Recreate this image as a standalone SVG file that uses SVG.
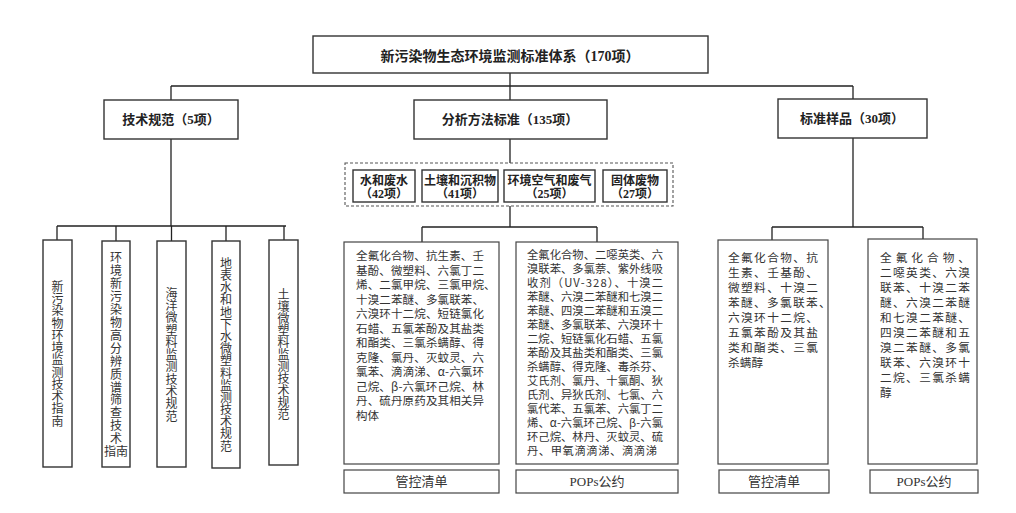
<svg xmlns="http://www.w3.org/2000/svg" width="1016" height="513" viewBox="0 0 1016 513">
<style>
.b{fill:#fff;stroke:#333;stroke-width:1.4}
.bt{fill:#fff;stroke:#444;stroke-width:1.2}
.d{fill:none;stroke:#555;stroke-width:1.1;stroke-dasharray:3,2}
.c{fill:none;stroke:#222;stroke-width:1.3}
.h{font-family:"Liberation Serif","Noto Sans CJK SC",serif;font-weight:bold;fill:#222;text-anchor:middle}
.body{font-family:"Noto Sans CJK SC",sans-serif;font-size:11.5px;fill:#333}
.p2{font-size:11.3px}
.r{font-family:"Noto Sans CJK SC",sans-serif;font-size:11.7px;fill:#333}
.v{font-family:"Noto Sans CJK SC",sans-serif;font-size:12px;fill:#333;text-anchor:middle}
.l{font-family:"Liberation Serif","Noto Sans CJK SC",serif;font-size:13px;fill:#333;text-anchor:middle}
</style>
<rect width="1016" height="513" fill="#fff"/>
<g id="connectors">
<path class="c" d="M510 73V86M171 86H853M171 86V100M510 86V100M853 86V99"/>
<path class="c" d="M171 139V226M57 226H286M57 226V240M116 226V241M171.5 226V241M226 226V241M284 226V240"/>
<path class="c" d="M510 139V163M510 206V227M422 227H597M422 227V242M597 227V242"/>
<path class="c" d="M853 138V227M772 227H923M772 227V240M923 227V239"/>
</g>
<g id="root"><rect class="b" x="313" y="36" width="395" height="37"/><text class="h" x="510" y="61" font-size="14">新污染物生态环境监测标准体系（170项）</text></g>
<g id="tech"><rect class="b" x="104" y="100" width="134" height="39"/><text class="h" x="171" y="124" font-size="13">技术规范（5项）</text></g>
<g id="method"><rect class="b" x="414" y="100" width="193" height="39"/><text class="h" x="510" y="124" font-size="13">分析方法标准（135项）</text></g>
<g id="sample"><rect class="b" x="778" y="99" width="149" height="39"/><text class="h" x="852" y="123" font-size="13">标准样品（30项）</text></g>
<g id="media">
<rect class="d" x="345" y="163" width="328" height="43"/>
<g id="water"><rect class="b" x="353" y="170" width="62" height="32"/><text class="h" x="384" y="184.5" font-size="12">水和废水</text><text class="h" x="384" y="198" font-size="12">（42项）</text></g>
<g id="soil"><rect class="b" x="422" y="170" width="76" height="32"/><text class="h" x="460" y="184.5" font-size="12">土壤和沉积物</text><text class="h" x="460" y="198" font-size="12">（41项）</text></g>
<g id="air"><rect class="b" x="504" y="170" width="91" height="32"/><text class="h" x="549.5" y="184.5" font-size="12">环境空气和废气</text><text class="h" x="549.5" y="198" font-size="12">（25项）</text></g>
<g id="solid"><rect class="b" x="603" y="170" width="64" height="32"/><text class="h" x="635" y="184.5" font-size="12">固体废物</text><text class="h" x="635" y="198" font-size="12">（27项）</text></g>
</g>
<g id="t1"><rect class="b" x="43" y="240" width="29" height="227"/><text class="v" x="57.5 57.5 57.5 57.5 57.5 57.5 57.5 57.5 57.5 57.5 57.5 57.5" y="290.7 303 315.2 327.5 339.7 352 364.2 376.5 388.7 401 413.2 425.5">新污染物环境监测技术指南</text></g>
<g id="t2"><rect class="b" x="102" y="241" width="28" height="226"/><text class="v" x="116 116 116 116 116 116 116 116 116 116 116 116 116 116 116 116" y="262.1 275 288 300.9 313.8 326.8 339.7 352.7 365.6 378.5 391.5 404.4 417.4 430.3 443.2 456.2">环境新污染物高分辨质谱筛查技术指南</text></g>
<g id="t3"><rect class="b" x="157" y="241" width="29" height="226"/><text class="v" x="171.5 171.5 171.5 171.5 171.5 171.5 171.5 171.5 171.5 171.5 171.5" y="297.7 310 322.3 334.6 346.9 359.1 371.4 383.7 396 408.2 420.5">海洋微塑料监测技术规范</text></g>
<g id="t4"><rect class="b" x="212" y="241" width="28" height="227"/><text class="v" x="226 226 226 226 226 226 226 226 226 226 226 226 226 226 226 226" y="267.7 279.9 292.1 304.3 316.5 328.7 340.9 353.1 365.3 377.5 389.7 401.9 414.1 426.3 438.4 450.6">地表水和地下水微塑料监测技术规范</text></g>
<g id="t5"><rect class="b" x="269" y="240" width="29" height="225"/><text class="v" x="283.5 283.5 283.5 283.5 283.5 283.5 283.5 283.5 283.5 283.5 283.5" y="298.6 310.6 322.6 334.6 346.6 358.6 370.6 382.6 394.6 406.6 418.6">土壤微塑料监测技术规范</text></g>
<g id="list1"><rect class="bt" x="344" y="242" width="155" height="222"/>
<text class="body" x="356" y="260" textLength="128" lengthAdjust="spacing">全氟化合物、抗生素、壬</text>
<text class="body" x="356" y="274.5" textLength="128" lengthAdjust="spacing">基酚、微塑料、六氯丁二</text>
<text class="body" x="356" y="289" textLength="139.6" lengthAdjust="spacing">烯、二氯甲烷、三氯甲烷、</text>
<text class="body" x="356" y="303.5" textLength="128" lengthAdjust="spacing">十溴二苯醚、多氯联苯、</text>
<text class="body" x="356" y="318" textLength="128" lengthAdjust="spacing">六溴环十二烷、短链氯化</text>
<text class="body" x="356" y="332.5" textLength="128" lengthAdjust="spacing">石蜡、五氯苯酚及其盐类</text>
<text class="body" x="356" y="347" textLength="128" lengthAdjust="spacing">和酯类、三氯杀螨醇、得</text>
<text class="body" x="356" y="361.5" textLength="128" lengthAdjust="spacing">克隆、氯丹、灭蚊灵、六</text>
<text class="body" x="356" y="376" textLength="128" lengthAdjust="spacing">氯苯、滴滴涕、α-六氯环</text>
<text class="body" x="356" y="390.5" textLength="128" lengthAdjust="spacing">己烷、β-六氯环己烷、林</text>
<text class="body" x="356" y="405" textLength="128" lengthAdjust="spacing">丹、硫丹原药及其相关异</text>
<text class="body" x="356" y="419.5">构体</text>
</g>
<g id="list2"><rect class="bt" x="516" y="242" width="162" height="222"/>
<text class="body p2" x="527" y="259" textLength="136" lengthAdjust="spacing">全氟化合物、二噁英类、六</text>
<text class="body p2" x="527" y="273" textLength="136" lengthAdjust="spacing">溴联苯、多氯萘、紫外线吸</text>
<text class="body p2" x="527" y="287" textLength="136" lengthAdjust="spacing">收剂（UV-328）、十溴二</text>
<text class="body p2" x="527" y="301" textLength="136" lengthAdjust="spacing">苯醚、六溴二苯醚和七溴二</text>
<text class="body p2" x="527" y="315" textLength="136" lengthAdjust="spacing">苯醚、四溴二苯醚和五溴二</text>
<text class="body p2" x="527" y="329" textLength="136" lengthAdjust="spacing">苯醚、多氯联苯、六溴环十</text>
<text class="body p2" x="527" y="343" textLength="136" lengthAdjust="spacing">二烷、短链氯化石蜡、五氯</text>
<text class="body p2" x="527" y="357" textLength="136" lengthAdjust="spacing">苯酚及其盐类和酯类、三氯</text>
<text class="body p2" x="527" y="371" textLength="136" lengthAdjust="spacing">杀螨醇、得克隆、毒杀芬、</text>
<text class="body p2" x="527" y="385" textLength="136" lengthAdjust="spacing">艾氏剂、氯丹、十氯酮、狄</text>
<text class="body p2" x="527" y="399" textLength="136" lengthAdjust="spacing">氏剂、异狄氏剂、七氯、六</text>
<text class="body p2" x="527" y="413" textLength="136" lengthAdjust="spacing">氯代苯、五氯苯、六氯丁二</text>
<text class="body p2" x="527" y="427" textLength="136" lengthAdjust="spacing">烯、α-六氯环己烷、β-六氯</text>
<text class="body p2" x="527" y="441" textLength="136" lengthAdjust="spacing">环己烷、林丹、灭蚊灵、硫</text>
<text class="body p2" x="527" y="455" textLength="130" lengthAdjust="spacing">丹、甲氧滴滴涕、滴滴涕</text>
</g>
<g id="list3"><rect class="bt" x="718" y="240" width="110" height="224"/>
<text class="r" x="728" y="262" textLength="90" lengthAdjust="spacing">全氟化合物、抗</text>
<text class="r" x="728" y="277" textLength="90" lengthAdjust="spacing">生素、壬基酚、</text>
<text class="r" x="728" y="292" textLength="90" lengthAdjust="spacing">微塑料、十溴二</text>
<text class="r" x="728" y="307" textLength="102.8" lengthAdjust="spacing">苯醚、多氯联苯、</text>
<text class="r" x="728" y="322" textLength="90" lengthAdjust="spacing">六溴环十二烷、</text>
<text class="r" x="728" y="337" textLength="90" lengthAdjust="spacing">五氯苯酚及其盐</text>
<text class="r" x="728" y="352" textLength="90" lengthAdjust="spacing">类和酯类、三氯</text>
<text class="r" x="728" y="367">杀螨醇</text>
</g>
<g id="list4"><rect class="bt" x="868" y="239" width="109" height="225"/>
<text class="r" x="880" y="262" textLength="90" lengthAdjust="spacing">全氟化合物、</text>
<text class="r" x="880" y="277" textLength="90" lengthAdjust="spacing">二噁英类、六溴</text>
<text class="r" x="880" y="292" textLength="90" lengthAdjust="spacing">联苯、十溴二苯</text>
<text class="r" x="880" y="307" textLength="90" lengthAdjust="spacing">醚、六溴二苯醚</text>
<text class="r" x="880" y="322" textLength="90" lengthAdjust="spacing">和七溴二苯醚、</text>
<text class="r" x="880" y="337" textLength="90" lengthAdjust="spacing">四溴二苯醚和五</text>
<text class="r" x="880" y="352" textLength="90" lengthAdjust="spacing">溴二苯醚、多氯</text>
<text class="r" x="880" y="367" textLength="90" lengthAdjust="spacing">联苯、六溴环十</text>
<text class="r" x="880" y="382" textLength="90" lengthAdjust="spacing">二烷、三氯杀螨</text>
<text class="r" x="880" y="397">醇</text>
</g>
<g id="f1"><rect class="bt" x="344" y="470" width="155" height="23"/><text class="l" x="421.5" y="486">管控清单</text></g>
<g id="f2"><rect class="bt" x="516" y="470" width="162" height="23"/><text class="l" x="597" y="486">POPs公约</text></g>
<g id="f3"><rect class="bt" x="719" y="470" width="110" height="23"/><text class="l" x="774" y="486">管控清单</text></g>
<g id="f4"><rect class="bt" x="870" y="470" width="108" height="23"/><text class="l" x="924" y="486">POPs公约</text></g>
</svg>
